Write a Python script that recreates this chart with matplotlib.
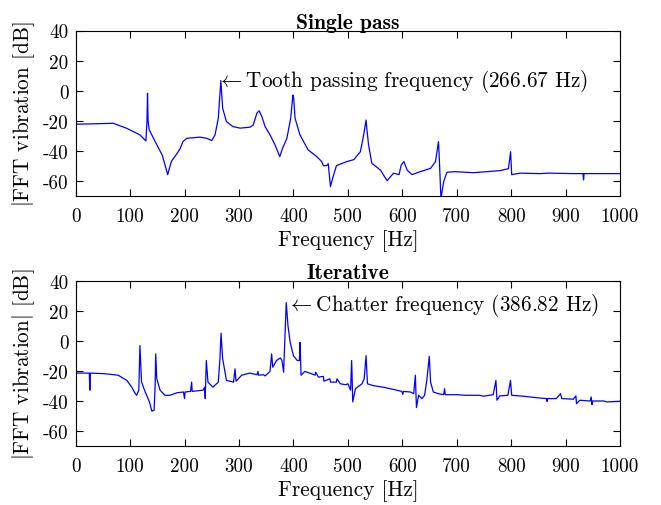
import matplotlib
matplotlib.use('Agg')
import matplotlib.pyplot as plt
import numpy as np

# Single pass spectrum (frequency [Hz], magnitude [dB])
single_f = [0, 0.5, 25, 69, 93, 118, 129, 131, 132, 133, 135, 146, 159, 166, 169, 172, 176,
            186, 192, 197, 204, 228, 241, 250, 256, 262, 266.7, 270, 277, 289, 302, 320,
            326, 333, 337, 342, 348, 357, 366, 375, 380, 388, 395, 399, 400.5, 403, 412,
            427, 443, 452, 455, 461, 464, 468, 472, 479, 498, 511, 523, 529, 533.5, 535,
            538, 544, 560, 572, 584, 594, 598, 603, 609, 618, 633, 652, 661, 666.5, 668,
            671, 676, 682, 697, 731, 780, 795, 799, 801, 816, 852, 869, 914, 932, 933,
            934, 1000]
single_db = [-80, -22.4, -22.2, -21.8, -25, -29.5, -33.5, -20, -1.8, -20, -26, -34, -43, -52,
             -56, -52, -47, -42, -38.5, -34, -31.8, -31, -31.8, -33.3, -29.5, -18.4, 6.7,
             -11.8, -20.7, -24, -25, -24.4, -23, -15, -13.5, -17.3, -24, -29.5, -36, -44,
             -38.4, -31.8, -18.4, -3, -5, -18.4, -29.5, -39.5, -44, -47.3, -50, -50, -48.7,
             -64, -58.4, -50, -47.3, -46, -40.7, -29.6, -19.6, -26, -36, -48.4, -53, -60,
             -55, -56, -49.6, -47.3, -53, -56, -54, -51.8, -47.3, -34, -45, -72, -60.7,
             -54.4, -54, -54.7, -53.3, -52, -40.7, -56, -55, -55.3, -55, -55.3, -55.3,
             -59.5, -55.3, -55.3]

# Iterative spectrum
iter_f = [0, 0.5, 25, 26, 27, 53, 78, 94, 103, 109, 112, 116, 118, 121, 127.5, 135.5, 140,
          144, 146, 147, 149, 155, 164, 173, 186, 198, 200, 201, 211, 213, 214, 234, 237,
          238, 240, 243, 252, 262, 265, 267, 270, 277, 290, 292.7, 294.6, 305, 320, 333,
          335, 336, 345, 348, 357, 360, 362, 369, 376, 379, 382, 386.8, 390, 394, 400,
          407, 411, 412.3, 414, 421, 430, 440, 441, 446, 455, 456, 467, 468, 479, 480,
          486, 496, 500, 505, 507, 509, 514, 526, 530, 533.5, 536, 547, 565, 584, 599,
          601, 602, 615, 621, 624, 626, 630, 636, 641, 645, 649.6, 652, 657, 666, 676,
          677.7, 679, 700, 718, 742, 749, 767, 772, 774, 779, 794, 798.8, 801, 822, 852,
          865, 866, 867, 883, 890.7, 893, 914, 919, 920, 926, 945, 947, 948.5, 950, 970,
          976, 1000]
iter_db = [-80, -21.6, -21.6, -33, -21.6, -22, -23, -26.5, -31, -35, -36.4, -33, -3.3, -27.6,
           -34, -40.8, -47, -46.4, -29.8, -8.8, -25.4, -33, -36.4, -36.4, -34.7, -34.2,
           -38.6, -34.2, -33.8, -27.6, -33.8, -33, -31, -38.6, -13.2, -27.6, -31, -27.6,
           -12, 5, -12, -26.5, -27.6, -18.8, -27, -23, -21.6, -22.7, -20.5, -23, -22.7,
           -23.5, -20.5, -8.8, -17.7, -13.2, -11.5, -13.2, -21, 25.4, 10, -1, -10, -13.2,
           -13.2, -1.1, -23, -20.5, -21.6, -23, -21, -24.3, -23.8, -27, -25.4, -27.6,
           -27.6, -25.4, -28.7, -29.4, -28.7, -33, -13.2, -40.8, -32, -28.7, -25.4, -10,
           -28.7, -30, -31, -32.5, -33.8, -35.8, -33.8, -34.2, -35.3, -23, -44.6, -36.4,
           -38.6, -36.4, -26.5, -10.4, -27.6, -34.2, -35.3, -36, -32, -36, -36, -36.4,
           -36.4, -37, -36, -26.5, -39.7, -36.8, -36.4, -26.5, -36.4, -37, -38.2, -38.6,
           -40.5, -38.6, -38.6, -35.3, -38.6, -39, -36.8, -42, -39.7, -40.2, -37.5, -42.6,
           -40.2, -40.2, -40.8, -40.4]

x_ticks = [0, 100, 200, 300, 400, 500, 600, 700, 800, 900, 1000]
y_ticks = [-60, -40, -20, 0, 20, 40]

plt.rcParams['font.family'] = 'serif'
plt.rcParams['font.serif'] = ['cmr10']
plt.rcParams['mathtext.fontset'] = 'cm'
plt.rcParams['axes.unicode_minus'] = False
plt.rcParams['font.size'] = 13.5


def style_axes(ax, title, ylabel):
    ax.set_xlim(0, 1000)
    ax.set_ylim(-70, 40)
    ax.set_xticks(x_ticks)
    ax.set_xticklabels([str(v) for v in x_ticks])
    ax.set_yticks(y_ticks)
    ax.set_yticklabels([str(v) for v in y_ticks])
    ax.tick_params(direction='in', top=True, right=True, length=5, width=0.8,
                   pad=5, labelsize=13.8)
    ax.tick_params(axis='x', pad=8)
    ax.set_xlabel('Frequency [Hz]', labelpad=3, fontsize=15.3)
    ax.set_ylabel(ylabel, labelpad=4, fontsize=15.3)
    ax.set_title(title, fontfamily='cmb10', fontsize=15.5, pad=2)
    for s in ax.spines.values():
        s.set_linewidth(0.8)


fig = plt.figure(figsize=(6.61, 5.06), dpi=100)
ax1 = fig.add_axes([0.1145, 0.6113, 0.8235, 0.3264])
ax2 = fig.add_axes([0.1145, 0.1172, 0.8235, 0.3261])

ax1.plot(single_f, single_db, color='#0000ff', lw=0.9)
style_axes(ax1, 'Single pass', r'$|$FFT vibration [dB]')
ax1.text(260, 6.5, r'$\leftarrow$Tooth passing frequency (266.67 Hz)',
         ha='left', va='center', fontsize=15.3)

ax2.plot(iter_f, iter_db, color='#0000ff', lw=0.9)
style_axes(ax2, 'Iterative', r'$|$FFT vibration$|$ [dB]')
ax2.text(388, 24.0, r'$\leftarrow$Chatter frequency (386.82 Hz)',
         ha='left', va='center', fontsize=15.3)

fig.savefig('out.png', dpi=100)
